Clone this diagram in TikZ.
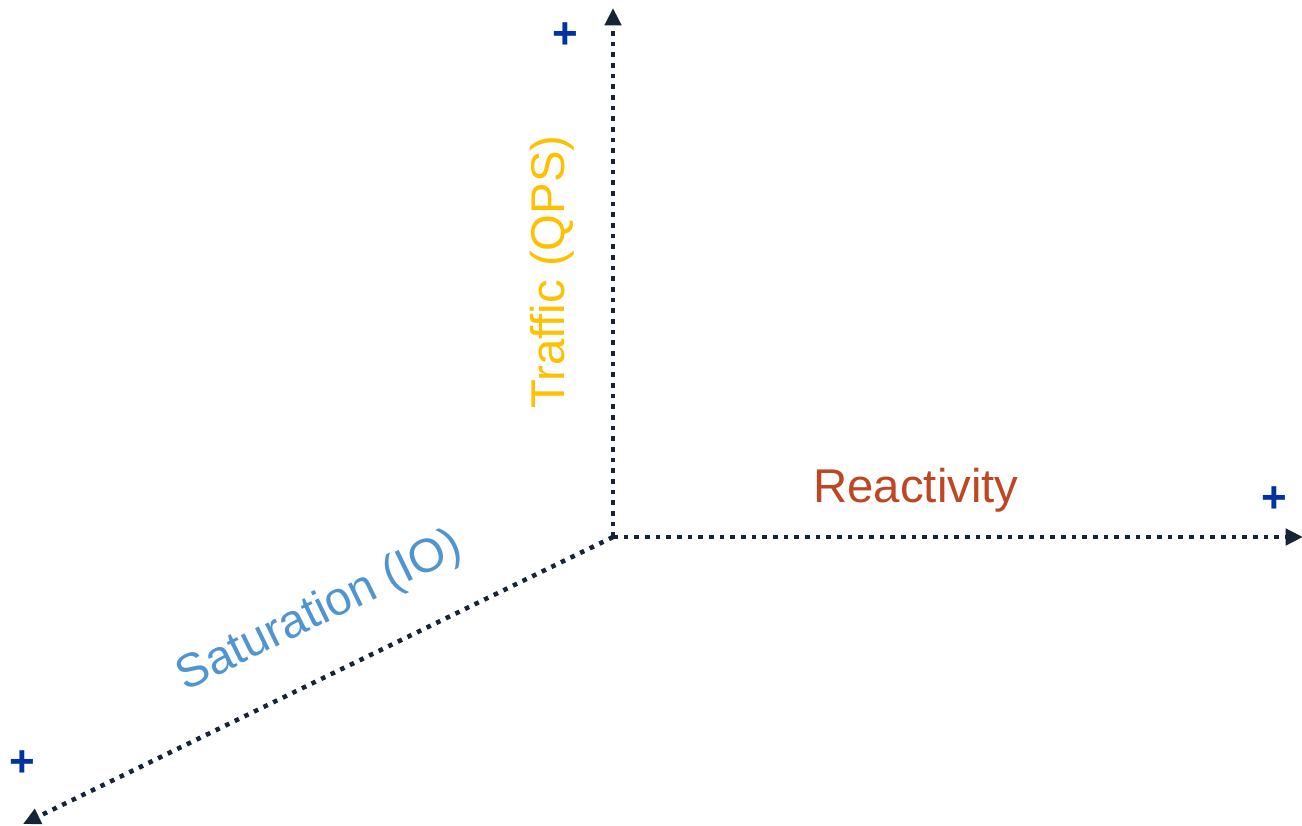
\documentclass[tikz,border=0pt]{standalone}
\usepackage{fontspec}
\setmainfont{Liberation Sans}
\usetikzlibrary{arrows.meta}

\definecolor{axisnavy}{RGB}{22,36,56}
\definecolor{trafficyellow}{RGB}{255,192,0}
\definecolor{reactred}{RGB}{190,70,35}
\definecolor{satblue}{RGB}{80,148,210}
\definecolor{plusblue}{RGB}{0,51,160}

\tikzset{every picture/.style={line width=0.75pt}}
\tikzset{
  axisline/.style={color=axisnavy, line width=3.4pt, dash pattern=on 3.4pt off 4.6pt,
    -{Triangle[length=13pt,width=12pt]}},
  axislabel/.style={inner sep=0.75pt, font=\fontsize{35.5}{42}\selectfont},
  plusmark/.style={inner sep=0pt, color=plusblue, font=\fontsize{33}{40}\selectfont\bfseries}
}

\begin{document}
\begin{tikzpicture}[x=0.75pt,y=0.75pt,yscale=-1,xscale=1]
\useasboundingbox (0,0) rectangle (1302,825);

% Axes
\coordinate (origin) at (613,537);
\coordinate (trafficend) at (613,8);
\coordinate (reactend) at (1303,537);
\coordinate (satend) at (23,824);
\draw [axisline] (origin) -- (trafficend);
\draw [axisline] (origin) -- (reactend);
\draw [axisline] (origin) -- (satend);

% Text Node
\node [axislabel, color=trafficyellow, rotate=90] (traffic) at (552,272) {Traffic (QPS)};
% Text Node
\node [axislabel, color=reactred] (reactivity) at (916,490) {Reactivity};
% Text Node
\node [axislabel, color=satblue, rotate=26] (saturation) at (320,612) {Saturation (IO)};

% Plus marks
\node [plusmark] (plustraffic) at (565,36) {+};
\node [plusmark] (plusreact) at (1274,500) {+};
\node [plusmark] (plussat) at (22,764) {+};

\end{tikzpicture}
\end{document}
